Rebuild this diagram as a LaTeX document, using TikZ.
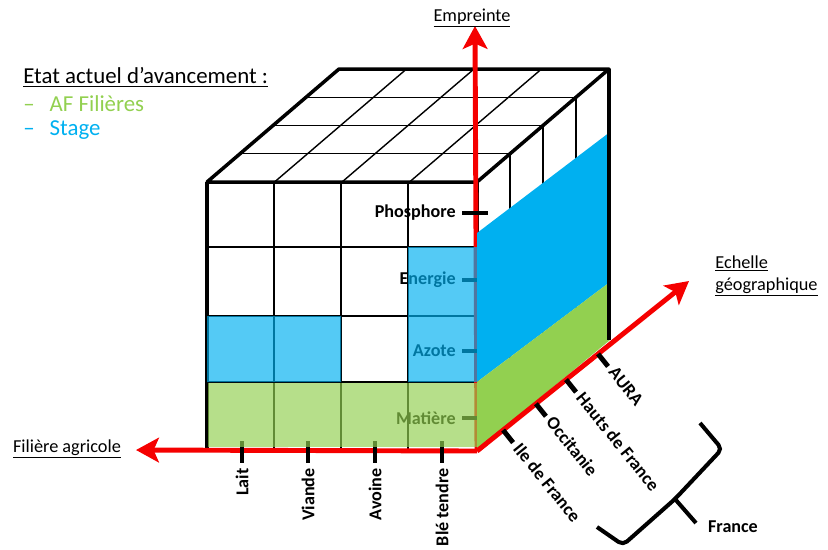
\documentclass[tikz,border=0pt]{standalone}
\usepackage{fontspec}
\setmainfont{Carlito}
\usetikzlibrary{arrows.meta,calc}
\definecolor{bleu}{RGB}{0,176,240}
\definecolor{vert}{RGB}{146,208,80}
\definecolor{rouge}{RGB}{245,0,0}
\tikzset{
    axe/.style={rouge,line width=2.8pt,-{Stealth[length=13pt,width=14pt,inset=3pt]}},
    grille/.style={line width=0.8pt},
    bord/.style={line width=2pt,line join=round},
    trait/.style={line width=2.8pt},
    etiq/.style={font=\fontsize{10.3}{12}\selectfont\bfseries,inner sep=0pt},
    titre/.style={font=\fontsize{10.4}{12.5}\selectfont,inner sep=0pt},
    legende/.style={font=\fontsize{13}{15}\selectfont,inner sep=0pt,anchor=west}
}

\begin{document}
\begin{tikzpicture}[x=0.02cm,y=-0.02cm]
            \useasboundingbox (0,0) rectangle (828,549);
            \foreach \x in {274,341,408} \draw[grille] (\x,182)--(\x,450);
            \foreach \y in {247,316,382} \draw[grille] (207,\y)--(477,\y);
            \foreach \k in {1,2,3}{
                \draw[grille] (207+33*\k,182-28.25*\k)--(477+33*\k,182-28.25*\k);
                \draw[grille] (207+67.5*\k,182)--(339+67.5*\k,69);
                \draw[grille] (477+33*\k,182-28.25*\k)--++(0,268);
            }
            \draw[bord] (207,450)--(207,182)--(477,182)--(609,69)--(339,69)--(207,182);
            \draw[bord] (477,182)--(477,450);
            \coordinate (O) at (477,451);
            \coordinate (hautE) at (475,26);
            \coordinate (gaucheF) at (136,450);
            \coordinate (droiteG) at (689,281);
            \draw[axe] (O)--(hautE);
            \draw[axe] (O)--(gaucheF);
            \foreach \y/\nom in {213/Phosphore,280/Energie,351/Azote,418/Matière}{
                \draw[trait] (462,\y)--(488,\y);
                \node[etiq,anchor=east] (e\y) at (456,\y) {\nom};
            }
            \foreach \x/\nom in {242/Lait,308/Viande,375/Avoine,442/Blé tendre}{
                \draw[trait] (\x,441)--(\x,463);
                \node[etiq,rotate=90,anchor=east] (f\x) at (\x,468) {\nom};
            }
            \fill[bleu,fill opacity=0.67] (408,247) rectangle (477,382) (207,316) rectangle (341,382);
            \fill[vert,fill opacity=0.67] (208,383) rectangle (477,447);
            \fill[bleu] (477,233)--(610,132)--(610,282)--(477,382)--cycle;
            \fill[vert] (477,382)--(610,282)--(610,340)--(477,450)--cycle;
            \draw[bord] (609,69)--(609,340);
            \draw[axe] (O)--(droiteG);
            \foreach \t/\nom in {0.123/Ile de France,0.278/Occitanie,0.42/Hauts de France,0.571/AURA}{
                \coordinate (g) at ($(O)!\t!(droiteG)$);
                \draw[trait] (g)--++(10,12.5);
                \node[etiq,rotate=-51,anchor=west] (n\t) at ($(g)+(14,15)$) {\nom};
            }
            \draw[line width=2.3pt,rounded corners=3pt] (700,423)--(722,449)--(675,499)--(623,545)--(597,527);
            \draw[line width=2.3pt] (675,499)--(696,523);
            \node[etiq] (france) at (733,527) {France};
            \node[titre] (empreinte) at (472,18) {\underline{Empreinte}};
            \node[titre] (filiere) at (67,449) {\underline{Filière agricole}};
            \node[titre,align=left,anchor=west] (echelle) at (715,276) {\underline{Echelle}\\\underline{géographique}};
            \node[legende] (etat) at (23,77) {\underline{Etat actuel d’avancement :}};
            \node[legende,text=vert] (af) at (23,104) {\makebox[15pt][l]{–}AF Filières};
            \node[legende,text=bleu] (stage) at (23,130) {\makebox[15pt][l]{–}Stage};
        \end{tikzpicture}
\end{document}
